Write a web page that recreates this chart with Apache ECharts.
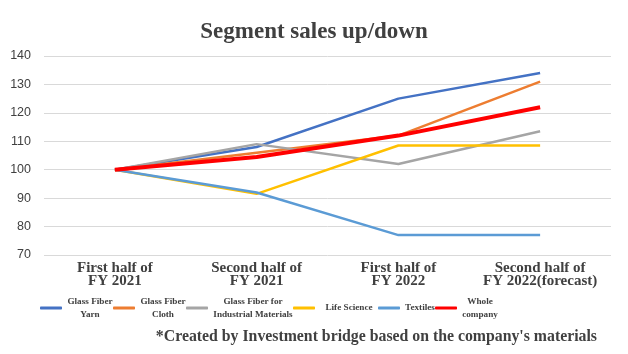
<!DOCTYPE html>
<html>
<head>
<meta charset="utf-8">
<script src="https://cdn.jsdelivr.net/npm/echarts@6/dist/echarts.min.js"></script>
<style>
html,body{margin:0;padding:0;background:#fff;}
#main{width:628px;height:354px;}
</style>
</head>
<body>
<div id="main"></div>
<script>
// data
var categories = ['First half of\nFY 2021', 'Second half of\nFY 2021', 'First half of\nFY 2022', 'Second half of\nFY 2022(forecast)'];
var yarn = [100, 108, 125, 134];
var cloth = [100, 106, 112, 131];
var industrial = [100, 109, 102, 113.5];
var lifeScience = [100, 91.5, 108.5, 108.5];
var textiles = [100, 92, 77, 77];
var whole = [100, 104.5, 112, 122];

var names = ['Glass Fiber\nYarn', 'Glass Fiber\nCloth', 'Glass Fiber for\nIndustrial Materials', 'Life Science', 'Textiles', 'Whole\ncompany'];
var colors = ['#4472C4', '#ED7D31', '#A5A5A5', '#FFC000', '#5B9BD5', '#FF0000'];
var values = [yarn, cloth, industrial, lifeScience, textiles, whole];

var serif = '"Liberation Serif", "Times New Roman", serif';
var legendFont = 9.2;

// measure legend lines so each entry can be centred line by line
var ctx = document.createElement('canvas').getContext('2d');
ctx.font = 'bold ' + legendFont + 'px ' + serif;
var rich = {};
var index = {};
for (var k = 0; k < names.length; k++) {
    var lines = names[k].split('\n');
    var w = 0;
    for (var j = 0; j < lines.length; j++) {
        w = Math.max(w, ctx.measureText(lines[j]).width);
    }
    index[names[k]] = k;
    rich['t' + k] = {
        width: Math.ceil(w),
        align: 'center',
        fontFamily: serif,
        fontSize: legendFont,
        fontWeight: 'bold',
        color: '#404040',
        lineHeight: 13
    };
}
// Life Science sits in a wider slot in the original
rich.t3.width += 10;

var myChart = echarts.init(document.getElementById('main'));

var series = [];
for (var i = 0; i < names.length; i++) {
    series.push({
        name: names[i],
        type: 'line',
        data: values[i],
        symbol: 'none',
        color: colors[i],
        lineStyle: { width: i == 5 ? 4 : 2.5, color: colors[i] },
        z: i == 5 ? 10 : 2
    });
}

var option = {
    animation: false,
    title: {
        text: 'Segment sales up/down',
        left: 'center',
        top: 16,
        textStyle: { fontFamily: serif, fontSize: 23, fontWeight: 'bold', color: '#404040' }
    },
    grid: { left: 44, right: 17, top: 56, bottom: 99 },
    legend: {
        top: 292,
        left: 35,
        itemWidth: 22,
        itemHeight: 3,
        itemGap: 0,
        icon: 'roundRect',
        data: names,
        formatter: function (name) {
            var idx = index[name];
            return name.split('\n').map(function (s) { return '{t' + idx + '|' + s + '}'; }).join('\n');
        },
        textStyle: { rich: rich }
    },
    xAxis: {
        type: 'category',
        data: categories,
        axisLine: { show: false },
        axisTick: { show: false },
        axisLabel: { fontFamily: serif, fontSize: 15, fontWeight: 'bold', color: '#404040', lineHeight: 13, margin: 7, interval: 0 }
    },
    yAxis: {
        type: 'value',
        min: 70,
        max: 140,
        interval: 10,
        axisLine: { show: false },
        axisTick: { show: false },
        axisLabel: { fontFamily: '"Liberation Sans", Arial, sans-serif', fontSize: 12.5, color: '#404040', margin: 13 },
        splitLine: { lineStyle: { color: '#D9D9D9', width: 1 } }
    },
    graphic: [{
        type: 'text',
        right: 31,
        top: 329,
        style: {
            text: "*Created by Investment bridge based on the company's materials",
            fontFamily: serif,
            fontSize: 15.8,
            fontWeight: 'bold',
            fill: '#404040'
        }
    }],
    series: series
};
myChart.setOption(option);
</script>
</body>
</html>
